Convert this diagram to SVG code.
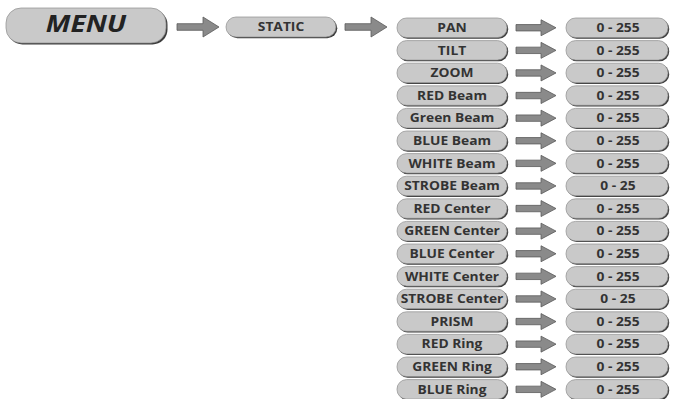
<svg xmlns="http://www.w3.org/2000/svg" xmlns:xlink="http://www.w3.org/1999/xlink" width="674" height="399" viewBox="0 0 674 399">
<style>
.sh{fill:#3c3c3c}
.bx{fill:#c9c9c9;stroke:#8e8e8e;stroke-width:0.7}
.t{font-family:"Open Sans","Liberation Sans",sans-serif;font-weight:700;font-size:12px;fill:#333;text-anchor:middle}
.m{font-family:"Open Sans","Liberation Sans",sans-serif;font-weight:700;font-style:italic;font-size:23px;fill:#222;text-anchor:middle}
.ar{fill:#8a8a8a;stroke:#5a5a5a;stroke-width:0.8}
</style>
<defs>
<path id="arBig" d="M0,-3.3 H26 V-10 L42,0 L26,10 V3.3 H0 Z"/>
<path id="arRow" d="M0,-3.2 H25 V-8 L40,0 L25,8 V3.2 H0 Z"/>
<rect id="lb" width="110" height="19.5" rx="9.5"/>
<rect id="rb" width="102" height="19.5" rx="9.5"/>
</defs>
<rect width="674" height="399" fill="#ffffff"/>
<g id="connectors">
<use href="#arBig" class="ar" x="177" y="27"/>
<use href="#arBig" class="ar" x="345" y="27"/>
<use href="#arRow" class="ar" x="516" y="27.75"/>
<use href="#arRow" class="ar" x="516" y="50.35"/>
<use href="#arRow" class="ar" x="516" y="72.95"/>
<use href="#arRow" class="ar" x="516" y="95.55"/>
<use href="#arRow" class="ar" x="516" y="118.15"/>
<use href="#arRow" class="ar" x="516" y="140.75"/>
<use href="#arRow" class="ar" x="516" y="163.35"/>
<use href="#arRow" class="ar" x="516" y="185.95"/>
<use href="#arRow" class="ar" x="516" y="208.55"/>
<use href="#arRow" class="ar" x="516" y="231.15"/>
<use href="#arRow" class="ar" x="516" y="253.75"/>
<use href="#arRow" class="ar" x="516" y="276.35"/>
<use href="#arRow" class="ar" x="516" y="298.95"/>
<use href="#arRow" class="ar" x="516" y="321.55"/>
<use href="#arRow" class="ar" x="516" y="344.15"/>
<use href="#arRow" class="ar" x="516" y="366.75"/>
<use href="#arRow" class="ar" x="516" y="389.35"/>
</g>
<g id="menu">
<rect class="sh" x="7.5" y="9.5" width="160" height="35" rx="15"/>
<rect class="bx" x="6" y="8" width="160" height="35" rx="15"/>
<text class="m" transform="translate(86 32) scale(1.22 1)">MENU</text>
</g>
<g id="static">
<rect class="sh" x="227.3" y="18.3" width="110" height="20" rx="10"/>
<rect class="bx" x="226" y="17" width="110" height="20" rx="10"/>
<text class="t" transform="translate(281 31.3) scale(1.15 1)">STATIC</text>
</g>
<g id="n-pan"><use href="#lb" class="sh" x="398.2" y="19.2"/><use href="#lb" class="bx" x="397" y="18"/><text class="t" transform="translate(452 32.05) scale(1.15 1)">PAN</text></g>
<g id="v-pan"><use href="#rb" class="sh" x="567.2" y="19.2"/><use href="#rb" class="bx" x="566" y="18"/><text class="t" transform="translate(618 32.05) scale(1.15 1)">0 - 255</text></g>
<g id="n-tilt"><use href="#lb" class="sh" x="398.2" y="41.8"/><use href="#lb" class="bx" x="397" y="40.6"/><text class="t" transform="translate(452 54.65) scale(1.15 1)">TILT</text></g>
<g id="v-tilt"><use href="#rb" class="sh" x="567.2" y="41.8"/><use href="#rb" class="bx" x="566" y="40.6"/><text class="t" transform="translate(618 54.65) scale(1.15 1)">0 - 255</text></g>
<g id="n-zoom"><use href="#lb" class="sh" x="398.2" y="64.4"/><use href="#lb" class="bx" x="397" y="63.2"/><text class="t" transform="translate(452 77.25) scale(1.15 1)">ZOOM</text></g>
<g id="v-zoom"><use href="#rb" class="sh" x="567.2" y="64.4"/><use href="#rb" class="bx" x="566" y="63.2"/><text class="t" transform="translate(618 77.25) scale(1.15 1)">0 - 255</text></g>
<g id="n-red-beam"><use href="#lb" class="sh" x="398.2" y="87"/><use href="#lb" class="bx" x="397" y="85.8"/><text class="t" transform="translate(452 99.85) scale(1.15 1)">RED Beam</text></g>
<g id="v-red-beam"><use href="#rb" class="sh" x="567.2" y="87"/><use href="#rb" class="bx" x="566" y="85.8"/><text class="t" transform="translate(618 99.85) scale(1.15 1)">0 - 255</text></g>
<g id="n-green-beam"><use href="#lb" class="sh" x="398.2" y="109.6"/><use href="#lb" class="bx" x="397" y="108.4"/><text class="t" transform="translate(452 122.45) scale(1.15 1)">Green Beam</text></g>
<g id="v-green-beam"><use href="#rb" class="sh" x="567.2" y="109.6"/><use href="#rb" class="bx" x="566" y="108.4"/><text class="t" transform="translate(618 122.45) scale(1.15 1)">0 - 255</text></g>
<g id="n-blue-beam"><use href="#lb" class="sh" x="398.2" y="132.2"/><use href="#lb" class="bx" x="397" y="131"/><text class="t" transform="translate(452 145.05) scale(1.15 1)">BLUE Beam</text></g>
<g id="v-blue-beam"><use href="#rb" class="sh" x="567.2" y="132.2"/><use href="#rb" class="bx" x="566" y="131"/><text class="t" transform="translate(618 145.05) scale(1.15 1)">0 - 255</text></g>
<g id="n-white-beam"><use href="#lb" class="sh" x="398.2" y="154.8"/><use href="#lb" class="bx" x="397" y="153.6"/><text class="t" transform="translate(452 167.65) scale(1.15 1)">WHITE Beam</text></g>
<g id="v-white-beam"><use href="#rb" class="sh" x="567.2" y="154.8"/><use href="#rb" class="bx" x="566" y="153.6"/><text class="t" transform="translate(618 167.65) scale(1.15 1)">0 - 255</text></g>
<g id="n-strobe-beam"><use href="#lb" class="sh" x="398.2" y="177.4"/><use href="#lb" class="bx" x="397" y="176.2"/><text class="t" transform="translate(452 190.25) scale(1.15 1)">STROBE Beam</text></g>
<g id="v-strobe-beam"><use href="#rb" class="sh" x="567.2" y="177.4"/><use href="#rb" class="bx" x="566" y="176.2"/><text class="t" transform="translate(618 190.25) scale(1.15 1)">0 - 25</text></g>
<g id="n-red-center"><use href="#lb" class="sh" x="398.2" y="200"/><use href="#lb" class="bx" x="397" y="198.8"/><text class="t" transform="translate(452 212.85) scale(1.15 1)">RED Center</text></g>
<g id="v-red-center"><use href="#rb" class="sh" x="567.2" y="200"/><use href="#rb" class="bx" x="566" y="198.8"/><text class="t" transform="translate(618 212.85) scale(1.15 1)">0 - 255</text></g>
<g id="n-green-center"><use href="#lb" class="sh" x="398.2" y="222.6"/><use href="#lb" class="bx" x="397" y="221.4"/><text class="t" transform="translate(452 235.45) scale(1.15 1)">GREEN Center</text></g>
<g id="v-green-center"><use href="#rb" class="sh" x="567.2" y="222.6"/><use href="#rb" class="bx" x="566" y="221.4"/><text class="t" transform="translate(618 235.45) scale(1.15 1)">0 - 255</text></g>
<g id="n-blue-center"><use href="#lb" class="sh" x="398.2" y="245.2"/><use href="#lb" class="bx" x="397" y="244"/><text class="t" transform="translate(452 258.05) scale(1.15 1)">BLUE Center</text></g>
<g id="v-blue-center"><use href="#rb" class="sh" x="567.2" y="245.2"/><use href="#rb" class="bx" x="566" y="244"/><text class="t" transform="translate(618 258.05) scale(1.15 1)">0 - 255</text></g>
<g id="n-white-center"><use href="#lb" class="sh" x="398.2" y="267.8"/><use href="#lb" class="bx" x="397" y="266.6"/><text class="t" transform="translate(452 280.65) scale(1.15 1)">WHITE Center</text></g>
<g id="v-white-center"><use href="#rb" class="sh" x="567.2" y="267.8"/><use href="#rb" class="bx" x="566" y="266.6"/><text class="t" transform="translate(618 280.65) scale(1.15 1)">0 - 255</text></g>
<g id="n-strobe-center"><use href="#lb" class="sh" x="398.2" y="290.4"/><use href="#lb" class="bx" x="397" y="289.2"/><text class="t" transform="translate(452 303.25) scale(1.15 1)">STROBE Center</text></g>
<g id="v-strobe-center"><use href="#rb" class="sh" x="567.2" y="290.4"/><use href="#rb" class="bx" x="566" y="289.2"/><text class="t" transform="translate(618 303.25) scale(1.15 1)">0 - 25</text></g>
<g id="n-prism"><use href="#lb" class="sh" x="398.2" y="313"/><use href="#lb" class="bx" x="397" y="311.8"/><text class="t" transform="translate(452 325.85) scale(1.15 1)">PRISM</text></g>
<g id="v-prism"><use href="#rb" class="sh" x="567.2" y="313"/><use href="#rb" class="bx" x="566" y="311.8"/><text class="t" transform="translate(618 325.85) scale(1.15 1)">0 - 255</text></g>
<g id="n-red-ring"><use href="#lb" class="sh" x="398.2" y="335.6"/><use href="#lb" class="bx" x="397" y="334.4"/><text class="t" transform="translate(452 348.45) scale(1.15 1)">RED Ring</text></g>
<g id="v-red-ring"><use href="#rb" class="sh" x="567.2" y="335.6"/><use href="#rb" class="bx" x="566" y="334.4"/><text class="t" transform="translate(618 348.45) scale(1.15 1)">0 - 255</text></g>
<g id="n-green-ring"><use href="#lb" class="sh" x="398.2" y="358.2"/><use href="#lb" class="bx" x="397" y="357"/><text class="t" transform="translate(452 371.05) scale(1.15 1)">GREEN Ring</text></g>
<g id="v-green-ring"><use href="#rb" class="sh" x="567.2" y="358.2"/><use href="#rb" class="bx" x="566" y="357"/><text class="t" transform="translate(618 371.05) scale(1.15 1)">0 - 255</text></g>
<g id="n-blue-ring"><use href="#lb" class="sh" x="398.2" y="380.8"/><use href="#lb" class="bx" x="397" y="379.6"/><text class="t" transform="translate(452 393.65) scale(1.15 1)">BLUE Ring</text></g>
<g id="v-blue-ring"><use href="#rb" class="sh" x="567.2" y="380.8"/><use href="#rb" class="bx" x="566" y="379.6"/><text class="t" transform="translate(618 393.65) scale(1.15 1)">0 - 255</text></g>
</svg>
